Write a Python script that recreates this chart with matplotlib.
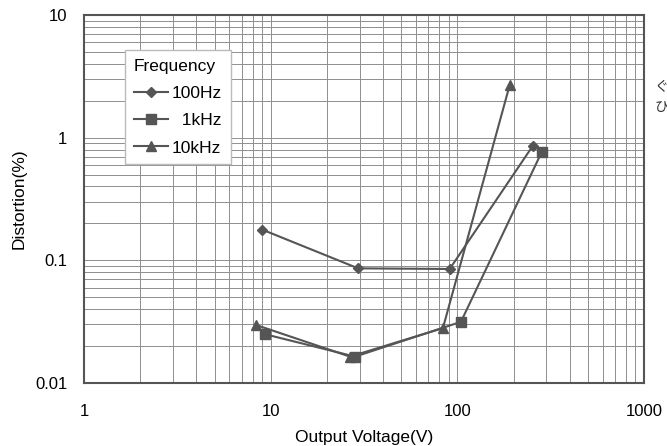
import matplotlib
matplotlib.use("Agg")
import matplotlib.pyplot as plt
from matplotlib.ticker import LogLocator, NullFormatter, FixedLocator, FixedFormatter

plt.rcParams['font.family'] = ['Liberation Sans', 'Noto Sans CJK JP', 'DejaVu Sans']

# distortion vs output voltage, one series per test frequency
v_100hz = [9.0, 29.4, 91.0, 254.0]
d_100hz = [0.178, 0.086, 0.085, 0.86]

v_1khz = [9.3, 28.3, 104.5, 284.0]
d_1khz = [0.025, 0.0164, 0.0315, 0.77]

v_10khz = [8.3, 26.6, 83.7, 191.0]
d_10khz = [0.0298, 0.0164, 0.028, 2.7]

series_labels = ['100Hz', '  1kHz', '10kHz']
x_ticks = [1, 10, 100, 1000]
x_tick_labels = ['1', '10', '100', '1000']
y_ticks = [0.01, 0.1, 1, 10]
y_tick_labels = ['0.01', '0.1', '1', '10']

line_col = '#555555'
grid_col = '#8f8f8f'

fig = plt.figure(figsize=(6.67, 4.46), dpi=100)
ax = fig.add_axes([0.126, 0.1413, 0.8395, 0.8251])

ax.set_xscale('log')
ax.set_yscale('log')
ax.set_xlim(1, 1000)
ax.set_ylim(0.01, 10)

ax.plot(v_100hz, d_100hz, color=line_col, lw=1.5, marker='D', ms=5,
        label=series_labels[0])
ax.plot(v_1khz, d_1khz, color=line_col, lw=1.5, marker='s', ms=7,
        label=series_labels[1])
ax.plot(v_10khz, d_10khz, color=line_col, lw=1.5, marker='^', ms=7,
        label=series_labels[2])

# ticks and grid
ax.xaxis.set_major_locator(FixedLocator(x_ticks))
ax.xaxis.set_major_formatter(FixedFormatter(x_tick_labels))
ax.yaxis.set_major_locator(FixedLocator(y_ticks))
ax.yaxis.set_major_formatter(FixedFormatter(y_tick_labels))
for axis in (ax.xaxis, ax.yaxis):
    axis.set_minor_locator(LogLocator(base=10, subs=range(2, 10), numticks=20))
    axis.set_minor_formatter(NullFormatter())
ax.tick_params(which='both', length=0, labelsize=12, colors='black')
ax.tick_params(axis='x', pad=15)
ax.tick_params(axis='y', pad=12)
ax.grid(True, which='both', color=grid_col, lw=0.7)
ax.set_axisbelow(True)

for sp in ax.spines.values():
    sp.set_color(line_col)
    sp.set_linewidth(1.5)

ax.set_xlabel('Output Voltage(V)', fontsize=12.5, labelpad=8)
ax.set_ylabel('Distortion(%)', fontsize=12.5, labelpad=6)

leg = ax.legend(title='Frequency', loc='upper left', bbox_to_anchor=(0.073, 0.905),
                borderaxespad=0, fontsize=12.5, title_fontsize=12.5, frameon=True,
                fancybox=False, edgecolor='#bbbbbb', framealpha=1, handlelength=2.0,
                handletextpad=0.2, labelspacing=0.7, borderpad=0.5,
                alignment='left', numpoints=1)
leg.get_frame().set_linewidth(1.0)

# margin notes beside the plot
fig.text(0.981, 0.795, 'ぐ', fontsize=10, color='#333333', family=['Noto Sans CJK JP'])
fig.text(0.981, 0.752, 'ひ', fontsize=10, color='#333333', family=['Noto Sans CJK JP'])

fig.savefig('out.png', dpi=100)
